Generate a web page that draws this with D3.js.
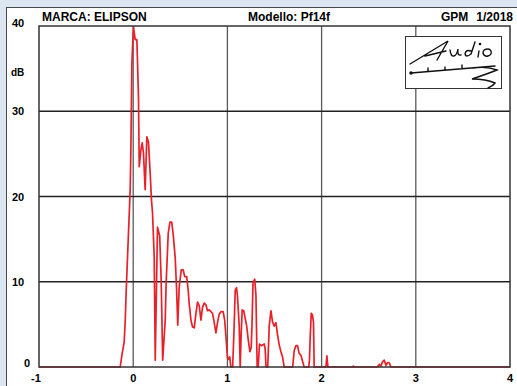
<!DOCTYPE html>
<html>
<head>
<meta charset="utf-8">
<script src="https://cdn.jsdelivr.net/npm/d3@7"></script>
<style>
  body { margin: 0; background: #dce6f2; }
  svg { display: block; font-family: "Liberation Sans", Arial, sans-serif; font-weight: bold; }
</style>
</head>
<body>
<div id="chart"></div>
<script>
// time axis (ms-ish units as printed) and level in dB
const times = [
  -1, -0.138, -0.117, -0.096, -0.085, -0.074, -0.053, -0.032, -0.024, -0.014,
  0.003, 0.021, 0.039, 0.056, 0.064, 0.082, 0.096, 0.109, 0.127, 0.145,
  0.162, 0.180, 0.194, 0.205, 0.223, 0.234, 0.258, 0.281, 0.297, 0.313,
  0.340, 0.350, 0.372, 0.390, 0.409, 0.425, 0.446, 0.460, 0.473, 0.488,
  0.510, 0.531, 0.547, 0.568, 0.584, 0.594, 0.613, 0.630, 0.648, 0.666,
  0.683, 0.701, 0.719, 0.736, 0.754, 0.772, 0.789, 0.807, 0.825, 0.842,
  0.860, 0.878, 0.895, 0.913, 0.934, 0.955, 0.971, 0.987, 1.001, 1.014,
  1.024, 1.037, 1.056, 1.072, 1.083, 1.097, 1.107, 1.125, 1.136, 1.146,
  1.157, 1.173, 1.189, 1.205, 1.221, 1.239, 1.253, 1.261, 1.272, 1.290,
  1.303, 1.316, 1.327, 1.341, 1.359, 1.391, 1.401, 1.410, 1.428, 1.444,
  1.462, 1.479, 1.497, 1.515, 1.532, 1.550, 1.568, 1.585, 1.603, 1.693,
  1.709, 1.727, 1.744, 1.762, 1.780, 1.797, 1.815, 1.863, 1.871, 1.879,
  1.890, 1.903, 1.914, 1.921, 2.046, 2.056, 2.067, 2.327, 2.336, 2.346,
  2.593, 2.611, 2.629, 2.647, 2.665, 2.683, 2.700, 2.718, 2.736, 4.0
];
const levels = [
  0, 0, 1.6, 2.9, 5.3, 9.0, 14.9, 20.8, 26.0, 35.7,
  39.9, 38.4, 38.4, 31.7, 23.5, 25.5, 26.3, 25.1, 20.8, 27.0,
  26.4, 22.8, 19.6, 18.1, 12.9, 0.8, 16.4, 15.4, 10.2, 0.8,
  5.5, 9.9, 15.7, 17.0, 17.0, 15.5, 12.8, 9.3, 4.9, 9.3,
  11.4, 11.4, 10.6, 10.6, 9.0, 7.5, 5.5, 4.7, 4.6, 6.3,
  7.6, 7.2, 5.5, 7.0, 7.5, 7.3, 6.6, 6.7, 6.5, 6.3,
  5.2, 4.0, 5.2, 6.2, 6.5, 6.5, 5.5, 3.2, 1.1, 0.9,
  1.2, 0, 0, 4.9, 9.0, 9.3, 8.3, 4.9, 0, 3.8,
  6.7, 6.6, 5.7, 4.8, 3.2, 1.8, 2.3, 4.9, 9.9, 10.3,
  8.4, 0, 0, 2.7, 2.5, 2.7, 2.1, 0, 0, 4.8,
  6.6, 5.3, 4.8, 5.2, 3.8, 2.6, 1.8, 1.2, 0, 0,
  1.9, 2.5, 2.5, 1.6, 1.4, 0.7, 0, 0, 0.8, 3.5,
  6.3, 6.1, 5.2, 0, 0, 1.3, 0, 0, 0.1, 0,
  0, 0.3, 0.1, 0.6, 0.8, 0.2, 0.5, 0.5, 0, 0
];
const xTicks = [-1, 0, 1, 2, 3, 4];
const yTicks = [0, 10, 20, 30, 40];
const unitLabel = "dB";
const brandLabel = "MARCA: ELIPSON";
const modelLabel = "Modello: Pf14f";
const authorLabel = "GPM";
const issueLabel = "1/2018";

const width = 517, height = 386;

const x = d3.scaleLinear().domain([-1, 4]).range([39, 510]);
const y = d3.scaleLinear().domain([0, 40]).range([367, 26]);

const svg = d3.select("#chart")
  .append("svg")
  .attr("width", width)
  .attr("height", height);

// page background + white card
svg.append("rect").attr("width", width).attr("height", height).attr("fill", "#dce6f2");
svg.append("rect")
  .attr("x", 6.5).attr("y", 7.5)
  .attr("width", 530).attr("height", 400)
  .attr("fill", "#fff")
  .attr("stroke", "#4a4a4a")
  .attr("stroke-width", 1);

// grid
svg.append("g")
  .selectAll("line")
  .data(xTicks.slice(1, -1))
  .join("line")
  .attr("x1", d => x(d)).attr("x2", d => x(d))
  .attr("y1", y(40)).attr("y2", y(0))
  .attr("stroke", "#5a5a5a")
  .attr("stroke-width", 1.3);

svg.append("g")
  .selectAll("line")
  .data(yTicks.slice(1, -1))
  .join("line")
  .attr("x1", x(-1)).attr("x2", x(4))
  .attr("y1", d => y(d)).attr("y2", d => y(d))
  .attr("stroke", "#222")
  .attr("stroke-width", 1.5);

// the curve
const line = d3.line()
  .x(d => x(d[0]))
  .y(d => y(d[1]));

svg.append("path")
  .datum(d3.zip(times, levels))
  .attr("d", line)
  .attr("fill", "none")
  .attr("stroke", "#e8202a")
  .attr("stroke-width", 1.7)
  .attr("stroke-linejoin", "round");

// frame
svg.append("rect")
  .attr("x", x(-1)).attr("y", y(40))
  .attr("width", x(4) - x(-1)).attr("height", y(0) - y(40))
  .attr("fill", "none")
  .attr("stroke", "#333")
  .attr("stroke-width", 1.5);

// logo box
const logo = svg.append("g");
logo.append("rect")
  .attr("x", 405.5).attr("y", 36.5)
  .attr("width", 96).attr("height", 52)
  .attr("fill", "#fff")
  .attr("stroke", "#333")
  .attr("stroke-width", 1);
logo.append("path")
  .attr("d",
    "M410,64 L448,41 L437,60 M425,56 L446,51" +
    "M450,50 q1,7 4,6 q3,-1 4,-7 q-1,7 3,6" +
    "M471,51 q-5,-2 -6,3 q1,4 6,0 l4,-12" +
    "M479,51 l-1,6" +
    "M488,49 q-5,0 -5,4 q1,4 5,3 q4,-1 3,-5 q-1,-2 -3,-2" +
    "M411,73 L495,66" +
    "M428,71 l0,-3 M445,70 l0,-3 M462,68 l0,-3" +
    "M473,68 q14,-2 24,2 q-10,4 -25,9 q14,0 23,4 q-2,3 -7,5")
  .attr("fill", "none")
  .attr("stroke", "#111")
  .attr("stroke-width", 1.4)
  .attr("stroke-linecap", "round");
logo.append("circle").attr("cx", 480).attr("cy", 44).attr("r", 1.3).attr("fill", "#111");
logo.append("circle").attr("cx", 411).attr("cy", 73).attr("r", 1.8).attr("fill", "#111");

// header
svg.append("text").attr("x", 42).attr("y", 21).attr("font-size", 12).text(brandLabel);
svg.append("text").attr("x", 248).attr("y", 21).attr("font-size", 12).text(modelLabel);
svg.append("text").attr("x", 441).attr("y", 21).attr("font-size", 12).text(authorLabel);
svg.append("text").attr("x", 513).attr("y", 21).attr("font-size", 12)
  .attr("text-anchor", "end").text(issueLabel);

// y labels
svg.append("g")
  .selectAll("text")
  .data(yTicks)
  .join("text")
  .attr("x", d => d === 0 ? 24 : 12)
  .attr("y", d => d === 40 ? y(d) + 1 : d === 0 ? y(d) : y(d) + 4)
  .attr("font-size", 11)
  .text(d => d);

svg.append("text").attr("x", 11).attr("y", 76).attr("font-size", 10).text(unitLabel);

// x labels
svg.append("g")
  .selectAll("text")
  .data(xTicks)
  .join("text")
  .attr("x", d => d === -1 ? x(d) - 3 : x(d))
  .attr("y", 382)
  .attr("text-anchor", "middle")
  .attr("font-size", 11)
  .text(d => d);
</script>
</body>
</html>
